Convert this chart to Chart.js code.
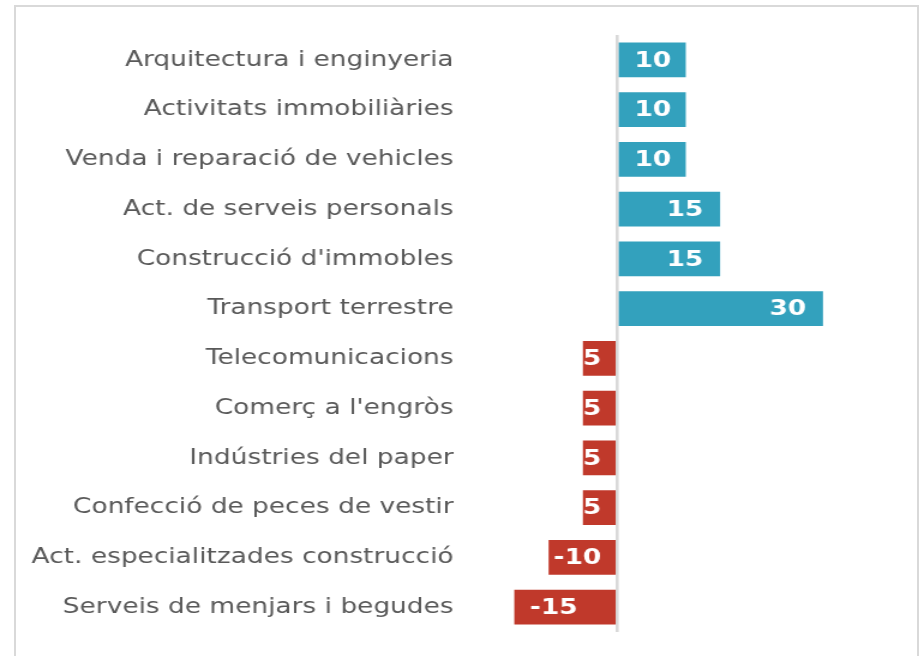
<!DOCTYPE html>
<html>
<head>
<meta charset="utf-8">
<script src="https://cdn.jsdelivr.net/npm/chart.js@4.4.0/dist/chart.umd.min.js"></script>
<style>
  html, body { margin: 0; padding: 0; background: #fff; overflow: hidden; }
  #marc { position: absolute; left: 14px; top: 5px; width: 905px; height: 700px;
          border: 2px solid #d9d9d9; box-sizing: border-box; }
  /* el gràfic original està estirat en horitzontal */
  #caixa { position: absolute; left: 0; top: 0; width: 767px; height: 656px;
           transform: scaleX(1.2); transform-origin: 0 0; }
</style>
</head>
<body>
<div id="marc"></div>
<div id="caixa"><canvas id="grafic"></canvas></div>
<script>
// Categories (de dalt a baix)
const categories = [
    'Arquitectura i enginyeria',
    'Activitats immobiliàries',
    'Venda i reparació de vehicles',
    'Act. de serveis personals',
    "Construcció d'immobles",
    'Transport terrestre',
    'Telecomunicacions',
    "Comerç a l'engròs",
    'Indústries del paper',
    'Confecció de peces de vestir',
    'Act. especialitzades construcció',
    'Serveis de menjars i begudes'
];
const valors = [10, 10, 10, 15, 15, 30, -5, -5, -5, -5, -10, -15];

const BLAU = '#33a1bd';
const VERMELL = '#c0392b';
const colors = valors.map(v => v >= 0 ? BLAU : VERMELL);

// Etiquetes dins de les barres (ancorades a l'extrem, retallades a la barra)
const etiquetesBarres = {
    id: 'etiquetesBarres',
    afterDatasetsDraw(chart) {
        const ctx = chart.ctx;
        const meta = chart.getDatasetMeta(0);
        ctx.save();
        ctx.font = 'bold 22px "DejaVu Sans", Verdana, sans-serif';
        ctx.fillStyle = '#ffffff';
        ctx.textBaseline = 'middle';
        ctx.textAlign = 'left';
        meta.data.forEach((bar, i) => {
            const text = String(valors[i]);
            const w = ctx.measureText(text).width;
            const base = bar.base, fi = bar.x;
            let x;
            if (valors[i] >= 0) {
                x = Math.max(base + 13, fi - 14 - w);
            } else {
                x = Math.min(fi + 13, base - 12 - w);
            }
            const h = bar.height;
            ctx.save();
            ctx.beginPath();
            ctx.rect(Math.min(base, fi), bar.y - h / 2, Math.abs(fi - base), h);
            ctx.clip();
            ctx.fillText(text, x, bar.y + 1);
            ctx.restore();
        });
        ctx.restore();
    }
};

new Chart(document.getElementById('grafic'), {
    type: 'bar',
    data: {
        labels: categories,
        datasets: [{
            data: valors,
            backgroundColor: colors,
            barPercentage: 0.7,
            categoryPercentage: 1.0
        }]
    },
    options: {
        indexAxis: 'y',
        responsive: true,
        maintainAspectRatio: false,
        animation: false,
        layout: { padding: { top: 35, bottom: 24, right: 24, left: 0 } },
        plugins: {
            legend: { display: false },
            tooltip: { enabled: false }
        },
        scales: {
            x: {
                min: -20,
                max: 40,
                display: true,
                ticks: { display: false },
                border: { display: false },
                afterFit: s => { s.height = 0; },
                grid: {
                    drawTicks: false,
                    lineWidth: 2.6,
                    color: c => c.tick && c.tick.value === 0 ? '#d9d9d9' : 'rgba(0,0,0,0)'
                }
            },
            y: {
                grid: { display: false, drawTicks: false },
                border: { display: false },
                afterFit: s => { s.width = 400; s.paddingTop = 0; s.paddingBottom = 0; },
                ticks: {
                    padding: 22,
                    color: '#595959',
                    font: { family: '"DejaVu Sans", Verdana, sans-serif', size: 22 }
                }
            }
        }
    },
    plugins: [etiquetesBarres]
});
</script>
</body>
</html>
